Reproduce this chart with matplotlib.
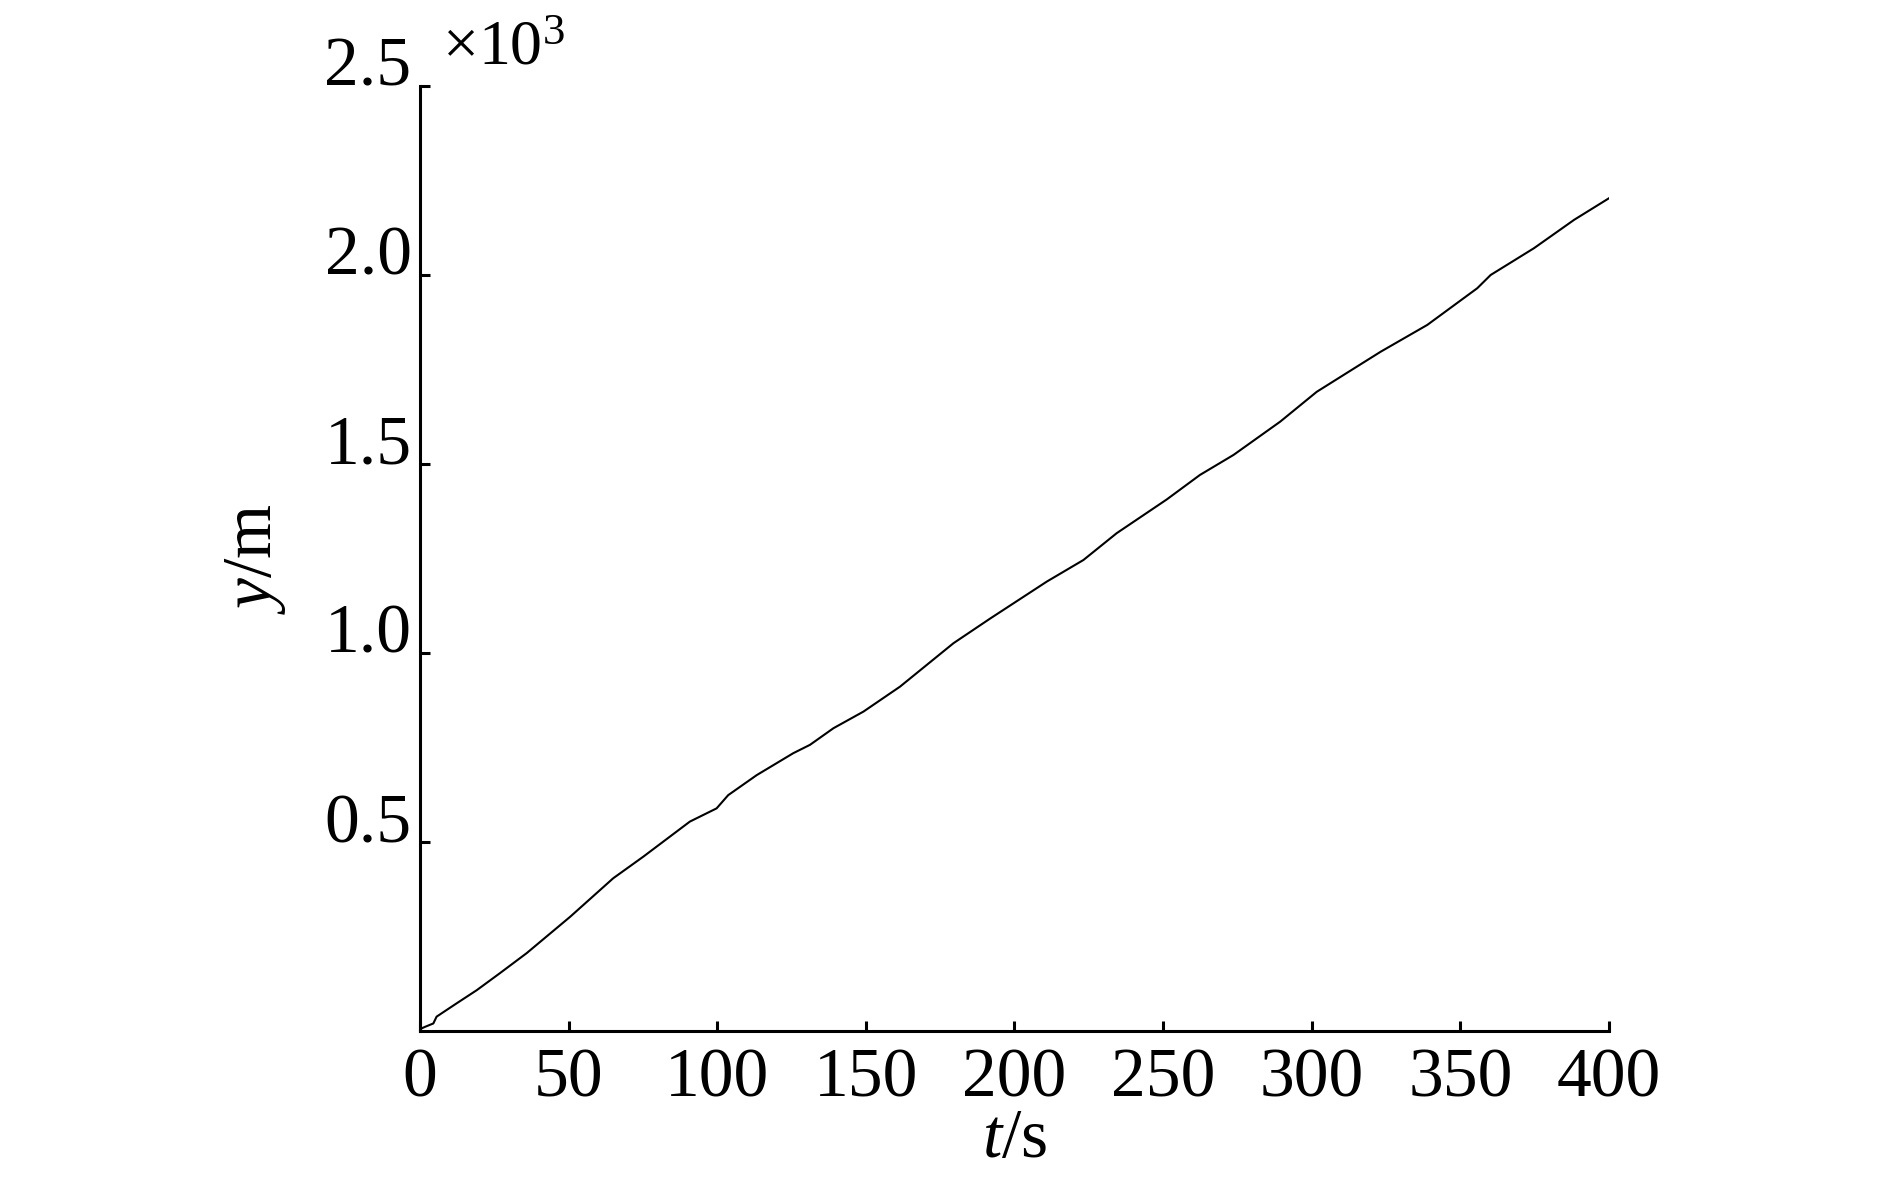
import matplotlib
matplotlib.use("Agg")
import matplotlib.pyplot as plt
import numpy as np

# time (s) and displacement (m)
t = [0, 1.7, 4.5, 5.6, 12.3, 19.1, 26.9, 35.9, 50.5, 65.0, 75.1, 90.8, 99.8,
     103.7, 113.3, 125.6, 131.2, 139.1, 149.2, 161.5, 179.5, 191.8, 210.9,
     223.2, 234.4, 251.2, 262.4, 273.7, 289.4, 301.7, 323.2, 338.9, 355.7,
     360.2, 374.8, 388.3, 400]
y = [5, 11, 20, 38, 73, 108, 153, 206, 302, 404, 461, 554, 589,
     624, 677, 735, 757, 801, 845, 911, 1026, 1091, 1189,
     1246, 1317, 1406, 1471, 1524, 1612, 1691, 1797, 1868, 1965,
     2000, 2071, 2146, 2203]

xticks = [0, 50, 100, 150, 200, 250, 300, 350, 400]
yticks = [0.5, 1.0, 1.5, 2.0, 2.5]
ytick_labels = ['0.5', '1.0', '1.5', '2.0', '2.5']

plt.rcParams['font.family'] = ['Liberation Serif', 'DejaVu Serif']
plt.rcParams['font.size'] = 50
plt.rcParams['mathtext.fontset'] = 'custom'
plt.rcParams['mathtext.rm'] = 'Liberation Serif'
plt.rcParams['mathtext.it'] = 'Liberation Serif:italic'

fig = plt.figure(figsize=(18.9, 11.81), dpi=100)
ax = fig.add_axes([0.2222, 0.127, 0.8513 - 0.2222, 0.9272 - 0.127])

ax.plot(t, np.array(y) / 1000.0, color='black', lw=1.5, solid_joinstyle='round')

ax.set_xlim(0, 400)
ax.set_ylim(0, 2.5)
ax.set_xticks(xticks)
ax.set_yticks(yticks)
ax.set_yticklabels(ytick_labels)
for lab in ax.get_yticklabels():
    lab.set_verticalalignment('baseline')

ax.spines['top'].set_visible(False)
ax.spines['right'].set_visible(False)
ax.spines['left'].set_linewidth(2.2)
ax.spines['bottom'].set_linewidth(2.2)
ax.tick_params(direction='in', length=7, width=2.2, labelsize=50)
ax.tick_params(axis='x', pad=12)
ax.tick_params(axis='y', pad=6)

ax.set_xlabel(r'$\mathit{t}$/s', labelpad=-2)
ax.set_ylabel(r'$\mathit{y}$/m', labelpad=26)

fig.text(0.234, 0.945, r'$\times$10$^{3}$', fontsize=46, ha='left', va='baseline')

fig.savefig('out.png', dpi=100)
